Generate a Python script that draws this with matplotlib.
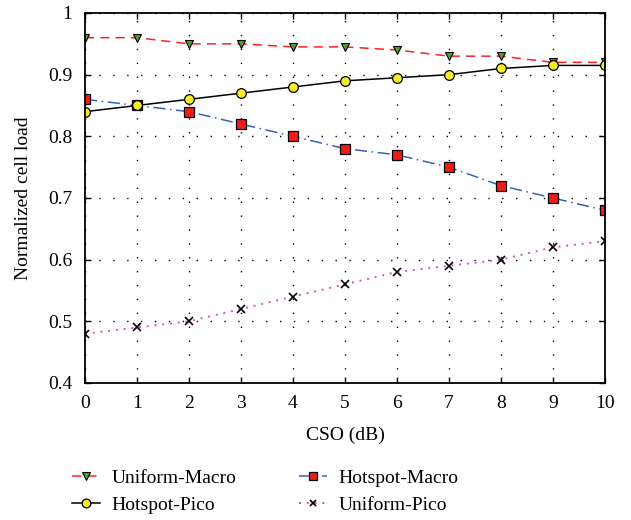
import numpy as np
import matplotlib.pyplot as plt

plt.rcParams['font.family'] = ['Liberation Serif', 'DejaVu Serif']
plt.rcParams['font.size'] = 14

# data
cso = [0, 1, 2, 3, 4, 5, 6, 7, 8, 9, 10]
uniform_macro = [0.96, 0.96, 0.95, 0.95, 0.945, 0.945, 0.94, 0.93, 0.93, 0.92, 0.92]
hotspot_pico = [0.84, 0.85, 0.86, 0.87, 0.88, 0.89, 0.895, 0.90, 0.91, 0.915, 0.915]
hotspot_macro = [0.86, 0.85, 0.84, 0.82, 0.80, 0.78, 0.77, 0.75, 0.72, 0.70, 0.68]
uniform_pico = [0.48, 0.49, 0.50, 0.52, 0.54, 0.56, 0.58, 0.59, 0.60, 0.62, 0.63]
yticks = [0.4, 0.5, 0.6, 0.7, 0.8, 0.9, 1.0]

fig = plt.figure(figsize=(6.31, 5.2), dpi=100)
ax = fig.add_axes([0.1347, 0.2635, 0.824, 0.7115])

ax.plot(cso, uniform_macro, color='#ff2020', ls=(0, (6, 4)), lw=1.1,
        marker='v', ms=6, mfc='#4fa02a', mec='black', mew=0.8, label='Uniform-Macro')
ax.plot(cso, hotspot_macro, color='#3a5fb5', ls=(0, (8, 3, 1, 3)), lw=1.1,
        marker='s', ms=6.5, mfc='#ee1c1c', mec='black', mew=0.9, label='Hotspot-Macro')
ax.plot(cso, hotspot_pico, color='black', ls='-', lw=1.1,
        marker='o', ms=7, mfc='#f4eb2a', mec='black', mew=0.9, label='Hotspot-Pico')
ax.plot(cso, uniform_pico, color='#cc55bb', ls=(0, (1, 3)), lw=1.4,
        marker='x', ms=5.5, mec='black', mew=1.2, label='Uniform-Pico')

ax.set_xlim(0, 10)
ax.set_ylim(0.4, 1.0)
ax.set_xticks(cso)
ax.set_yticks(yticks)
ax.set_yticklabels(['0.4', '0.5', '0.6', '0.7', '0.8', '0.9', '1'])
ax.tick_params(direction='in', length=4, width=1, top=True, right=True, pad=9)
ax.grid(True, color='black', ls=(0, (1, 9)), lw=1)
for s in ax.spines.values():
    s.set_linewidth(1.3)

ax.set_xlabel('CSO (dB)', labelpad=10)
ax.set_ylabel('Normalized cell load', labelpad=12)

h, l = ax.get_legend_handles_labels()
order = [0, 2, 1, 3]
fig.legend([h[i] for i in order], [l[i] for i in order], ncol=2, frameon=False,
           loc='center left', bbox_to_anchor=(72 / 631, 0.055), borderpad=0,
           borderaxespad=0, handlelength=1.45, handletextpad=0.6,
           columnspacing=3.2, labelspacing=0.5, markerscale=0.9)

fig.savefig('out.png', dpi=100)
